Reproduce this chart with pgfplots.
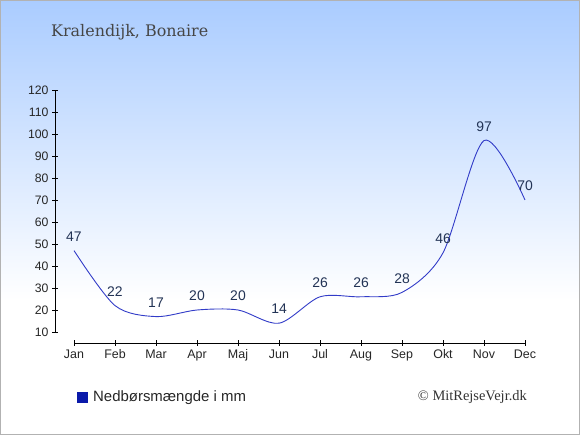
\documentclass[border=0pt]{standalone}
\usepackage{pgfplots}
\pgfplotsset{compat=1.18}
\usepackage{fontspec}
\setmainfont{Liberation Sans}
\newfontfamily\titlefont{DejaVu Serif}
\newfontfamily\copyfont{Liberation Serif}
\definecolor{bgtop}{RGB}{170,204,255}
\definecolor{linecol}{RGB}{50,60,200}
\definecolor{labcol}{RGB}{34,51,85}
\definecolor{legcol}{RGB}{10,26,170}
\definecolor{titlecol}{RGB}{70,70,70}
\begin{document}
\begin{tikzpicture}[x=1bp,y=1bp]
\useasboundingbox (0,0) rectangle (580,435);
\fill[white] (0,0) rectangle (580,435);
\shade[top color=bgtop, bottom color=white] (0,135) rectangle (580,435);
\draw[gray!60, line width=1bp] (0.5,0.5) rectangle (579.5,434.5);
\node[anchor=west, font=\titlefont\fontsize{16}{19}\selectfont, text=titlecol, inner sep=0] at (51,403) {Kralendijk, Bonaire};
\begin{axis}[
  at={(55bp,103bp)}, anchor=south west,
  scale only axis, width=470bp, height=242bp,
  xmin=0.5366, xmax=12, ymin=10, ymax=120,
  axis y line=left, axis x line=none,
  y axis line style={-, line width=0.8bp},
  ytick={10,20,...,120},
  tick align=center,
  major tick length=6bp,
  tick style={black, line width=0.8bp},
  yticklabel style={font=\fontsize{12.3}{14}\selectfont, text=black!85},
  /pgf/number format/assume math mode=true,
  clip=false,
]
\addplot[linecol, line width=0.9bp, smooth, tension=0.5,
  nodes near coords,
  every node near coord/.append style={anchor=center, yshift=14bp, font=\fontsize{14}{16}\selectfont, text=labcol}]
  coordinates {(1,47) (2,22) (3,17) (4,20) (5,20) (6,14) (7,26) (8,26) (9,28) (10,46) (11,97) (12,70)};
\end{axis}
\begin{axis}[
  at={(74bp,92bp)}, anchor=south west,
  scale only axis, width=451bp, height=10bp,
  xmin=1, xmax=12, ymin=0, ymax=1,
  axis x line=bottom, axis y line=none,
  x axis line style={-, line width=0.8bp},
  xtick={1,...,12},
  xticklabels={Jan,Feb,Mar,Apr,Maj,Jun,Jul,Aug,Sep,Okt,Nov,Dec},
  tick align=center,
  major tick length=6bp,
  tick style={black, line width=0.8bp},
  xticklabel style={font=\fontsize{12.5}{14}\selectfont, text=black!85},
]
\addplot[draw=none] coordinates {(1,0) (12,0)};
\end{axis}
\fill[legcol] (77,32) rectangle (88,43);
\node[anchor=west, font=\fontsize{15}{17}\selectfont, text=black!85, inner sep=0] at (93,37.5) {Nedbørsmængde i mm};
\node[anchor=east, font=\copyfont\fontsize{14.5}{16}\selectfont, text=black!80, inner sep=0] at (527,37.5) {© MitRejseVejr.dk};
\end{tikzpicture}
\end{document}
